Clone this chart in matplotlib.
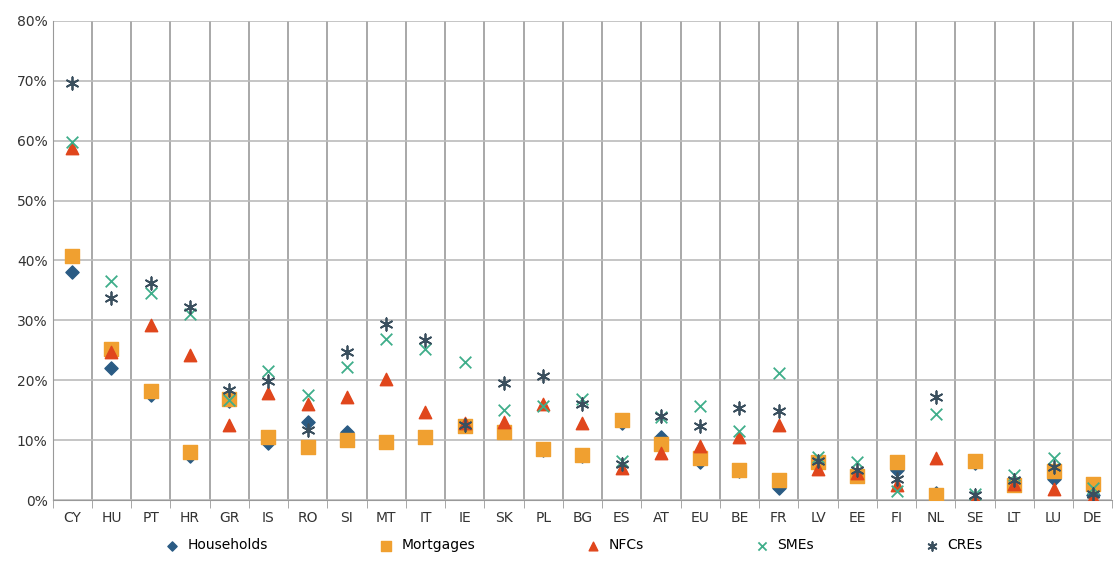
import matplotlib.pyplot as plt
import numpy as np
from matplotlib.ticker import PercentFormatter

countries = ["CY", "HU", "PT", "HR", "GR", "IS", "RO", "SI", "MT", "IT", "IE", "SK", "PL", "BG",
             "ES", "AT", "EU", "BE", "FR", "LV", "EE", "FI", "NL", "SE", "LT", "LU", "DE"]
households = [38, 22, 17.5, 7.3, 16.5, 9.5, 13, 11.3, 9.7, 10.5, 12.5, 11.3, 8.3, 7.3,
              12.8, 10.5, 6.3, 4.8, 2, 6, 4, 5, 1.2, 6.2, 2.5, 3.5, 0.8]
mortgages = [40.7, 25.2, 18.2, 8.1, 16.9, 10.5, 8.9, 10.1, 9.7, 10.6, 12.4, 11.3, 8.5, 7.6,
             13.3, 9.3, 7.0, 5.1, 3.3, 6.3, 4.1, 6.3, 0.9, 6.6, 2.5, 4.8, 2.7]
nfcs = [58.8, 24.8, 29.2, 24.3, 12.6, 17.9, 16, 17.2, 20.2, 14.7, 12.8, 13.1, 16.1, 12.9,
        5.4, 7.8, 9.1, 10.6, 12.5, 5.2, 4.5, 2.5, 7.1, 0.3, 2.7, 1.9, 0.5]
smes = [59.8, 36.5, 34.5, 31, 16.8, 21.5, 17.5, 22.3, 26.9, 25.3, 23, 15, 15.7, 16.9,
        6.5, 13.8, 15.8, 11.5, 21.2, 7.2, 6.4, 1.5, 14.3, 1, 4.2, 7, 2.1]
cres = [69.7, 33.8, 36.2, 32.2, 18.4, 19.9, 11.7, 24.7, 29.4, 26.7, 12.5, 19.5, 20.8, 16,
        6, 14, 12.3, 15.3, 14.8, 6.5, 5, 3.5, 17.3, 0.8, 3.3, 5.5, 1]

fig = plt.figure(figsize=(11.18, 5.62), dpi=100)
ax = fig.add_axes([0.047, 0.11, 0.948, 0.853])
x = np.arange(len(countries))

ax.scatter(x, households, marker="D", s=45, color="#2a5b84", label="Households", zorder=3)
ax.scatter(x, mortgages, marker="s", s=90, color="#f0a030", label="Mortgages", zorder=3)
ax.scatter(x, nfcs, marker="^", s=80, color="#e0461c", label="NFCs", zorder=3)
ax.scatter(x, smes, marker="x", s=70, color="#3fae8a", linewidths=1.3, label="SMEs", zorder=3)
ax.scatter(x, cres, marker=(6, 2, 0), s=80, color="#3a4f5e", linewidths=1.3, label="CREs", zorder=3)

ax.set_xlim(-0.5, len(countries) - 0.5)
ax.set_ylim(0, 80)
ax.set_yticks(np.arange(0, 81, 10))
ax.yaxis.set_major_formatter(PercentFormatter(decimals=0))
ax.set_xticks(x)
ax.set_xticklabels(countries)
ax.tick_params(axis="x", length=0, pad=8)
ax.tick_params(axis="y", length=0)
ax.set_xticks(np.arange(-0.5, len(countries), 1), minor=True)
ax.tick_params(axis="x", which="minor", length=6, color="#999999")
ax.grid(axis="y", color="#bbbbbb", linewidth=1.2)
ax.grid(axis="x", which="minor", color="#999999", linewidth=1.2)
for s in ["top", "right"]:
    ax.spines[s].set_visible(False)
ax.spines["left"].set_color("#999999")
ax.spines["bottom"].set_color("#999999")
for lab in ax.get_xticklabels() + ax.get_yticklabels():
    lab.set_fontsize(10)
    lab.set_color("#333333")

fig.legend(loc="lower center", bbox_to_anchor=(0.51, -0.005), ncol=5, frameon=False,
           fontsize=10, columnspacing=7.5, handletextpad=0.1, markerscale=0.7)
fig.savefig("out.png", dpi=100)
